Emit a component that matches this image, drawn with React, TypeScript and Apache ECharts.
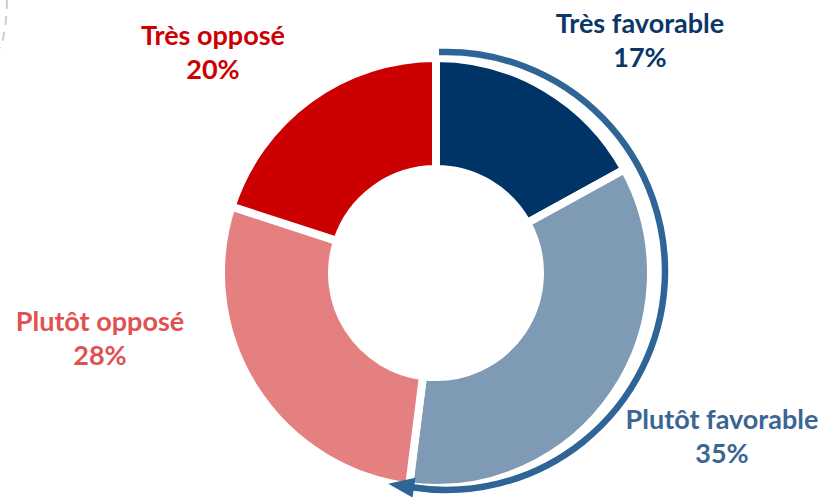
import React, { useEffect, useRef } from 'react';
import * as echarts from 'echarts';

const categories = ['Très favorable', 'Plutôt favorable', 'Plutôt opposé', 'Très opposé'];
const values = [17, 35, 28, 20];
const sliceColors = ['#003366', '#7F9AB5', '#E48080', '#CC0000'];
const labelColors = ['#0B3768', '#3B6694', '#E05252', '#CC0000'];
const labelPositions = [[640, 39], [722, 435], [100, 337], [213, 51]];

export default function App() {
  const ref = useRef<HTMLDivElement>(null);
  useEffect(() => {
    const chart = echarts.init(ref.current!, null, { renderer: 'svg' });
    const cx = 446, cy = 271, R = 219;
    const a0 = -Math.PI / 2 - Math.asin(7 / R);
    const a1 = Math.acos((414 - cx) / R);
    const bx = cx + R * Math.cos(a1), by = cy + R * Math.sin(a1);
    const tx = -Math.sin(a1), ty = Math.cos(a1);
    const nx = Math.cos(a1), ny = Math.sin(a1);
    const L = 26, W = 10;
    const tip = [bx + L * tx, by + L * ty];
    const p1 = [bx + W * nx, by + W * ny];
    const p2 = [bx - W * nx, by - W * ny];

    chart.setOption({
      animation: false,
      backgroundColor: '#ffffff',
      graphic: [
        {
          type: 'arc',
          shape: { cx, cy, r: R, startAngle: a0, endAngle: a1 + 0.01, clockwise: true },
          style: { stroke: '#2F6496', lineWidth: 6.5, fill: 'none' },
          z: 10,
        },
        {
          type: 'polygon',
          shape: { points: [tip, p1, p2] },
          style: { fill: '#2F6496' },
          z: 10,
        },
        {
          type: 'polyline',
          shape: { points: [[7, 0], [6.6, 12], [5.4, 25], [3.4, 37], [0.5, 48]] },
          style: { stroke: '#cfcfcf', lineWidth: 2, lineDash: [9, 7], fill: 'none' },
        },
      ],
      series: [
        {
          type: 'pie',
          center: [436, 273],
          radius: [104, 215],
          startAngle: 90,
          clockwise: true,
          avoidLabelOverlap: false,
          itemStyle: { borderColor: '#ffffff', borderWidth: 8 },
          labelLine: { show: false },
          emphasis: { disabled: true },
          label: {
            show: true,
            formatter: '{b}\n{c}%',
            fontFamily: 'Lato, "Open Sans", sans-serif',
            fontWeight: 'bold',
            fontSize: 27,
            lineHeight: 34,
            align: 'center',
          },
          labelLayout: (p: any) => ({
            x: labelPositions[p.dataIndex][0],
            y: labelPositions[p.dataIndex][1],
            align: 'center',
            verticalAlign: 'middle',
          }),
          data: categories.map((name, i) => ({
            name,
            value: values[i],
            itemStyle: { color: sliceColors[i] },
            label: { color: labelColors[i] },
          })),
        },
      ],
    });
    return () => chart.dispose();
  }, []);
  return (
    <div
      ref={ref}
      style={{ position: 'fixed', left: 0, top: 0, width: 827, height: 502, background: '#fff' }}
    />
  );
}
